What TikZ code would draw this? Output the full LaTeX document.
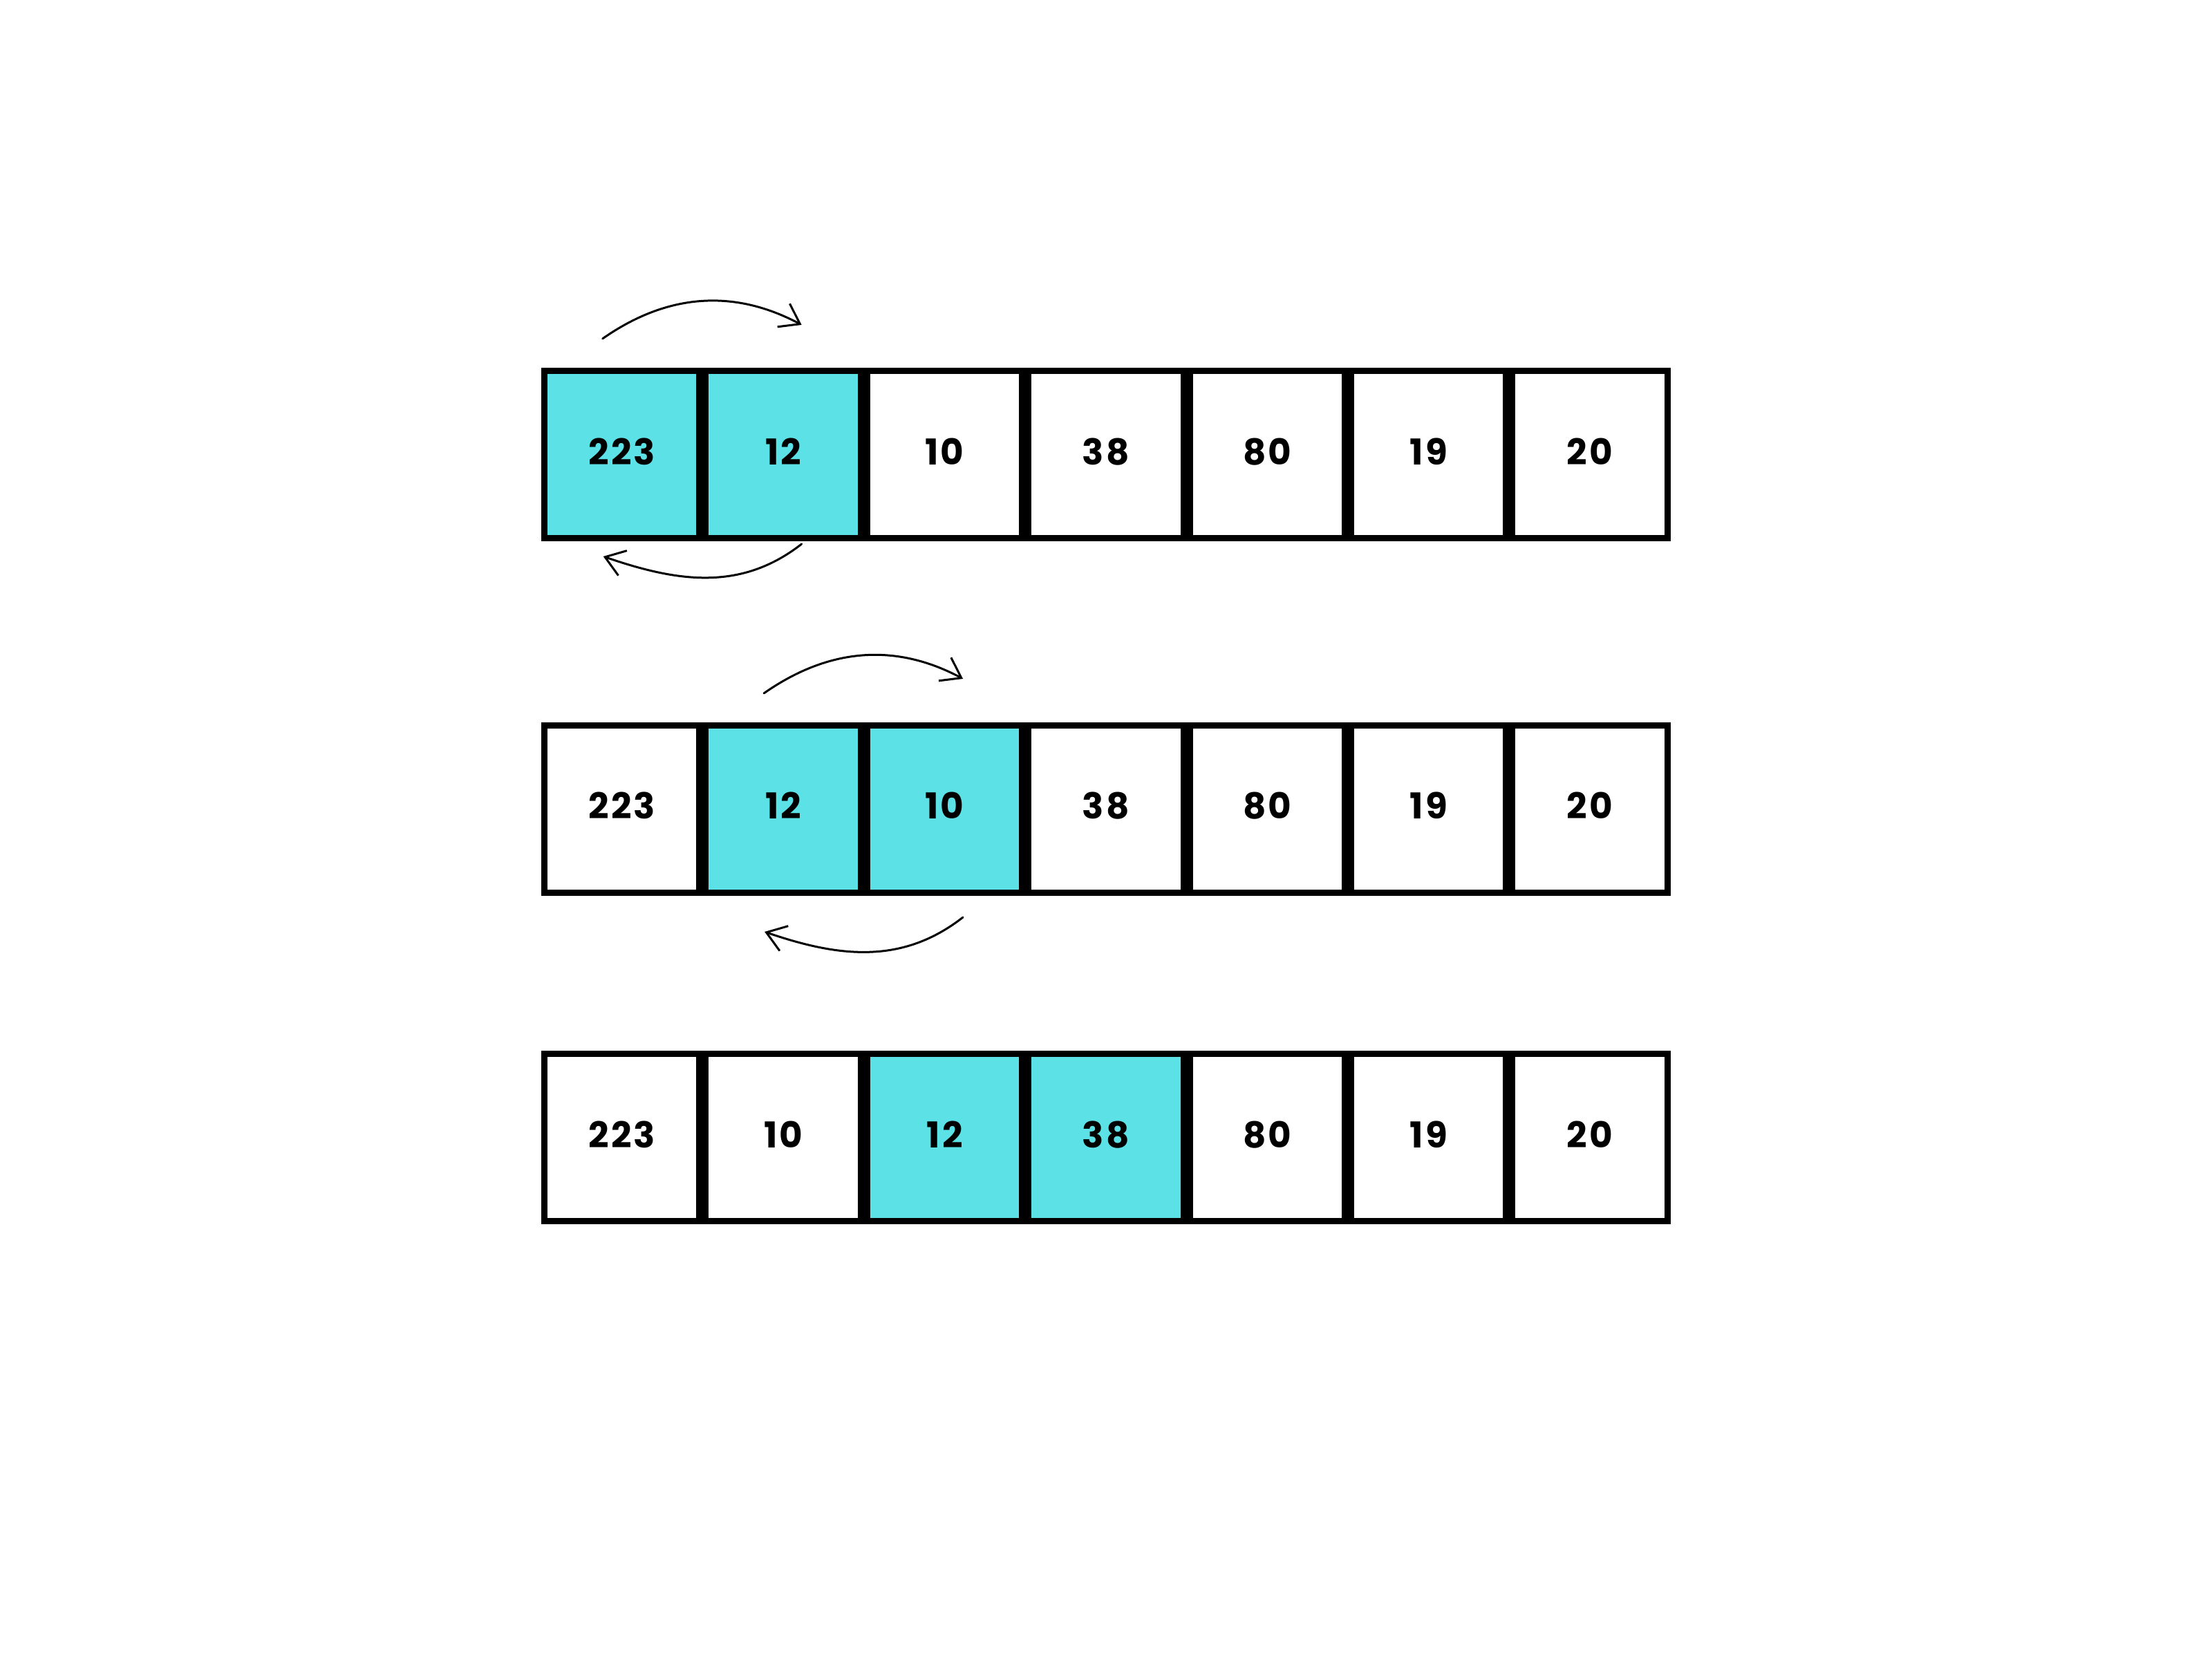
\documentclass[tikz,border=0pt]{standalone}
\usepackage{fontspec}
\setmainfont{Poppins}
\usepackage{tikz}
\usetikzlibrary{positioning,arrows.meta}
\definecolor{swapcyan}{HTML}{5CE1E6}

\tikzset{
	cell/.style={draw, rectangle, line width=0.09cm, minimum width=2.244cm, minimum height=2.42cm, inner sep=0pt, text depth=0.1cm, font=\fontsize{14.7}{16}\selectfont\bfseries\addfontfeatures{LetterSpace=6}},
	hot/.style={cell, fill=swapcyan},
	swap/.style={-{Straight Barb[length=0.27cm,width=0.38cm]}, line width=0.03cm, line cap=round},
}

\begin{document}
\begin{tikzpicture}
	\useasboundingbox (0,0) rectangle (32,24);

	\node[hot](A1) at (8.997,17.42){223};
	\node[hot, right of=A1, node distance=2.334cm](A2){12};
	\node[cell, right of=A2, node distance=2.334cm](A3){10};
	\node[cell, right of=A3, node distance=2.334cm](A4){38};
	\node[cell, right of=A4, node distance=2.334cm](A5){80};
	\node[cell, right of=A5, node distance=2.334cm](A6){19};
	\node[cell, right of=A6, node distance=2.334cm](A7){20};

	\node[cell, below of=A1, node distance=5.125cm](B1){223};
	\node[hot, right of=B1, node distance=2.334cm](B2){12};
	\node[hot, right of=B2, node distance=2.334cm](B3){10};
	\node[cell, right of=B3, node distance=2.334cm](B4){38};
	\node[cell, right of=B4, node distance=2.334cm](B5){80};
	\node[cell, right of=B5, node distance=2.334cm](B6){19};
	\node[cell, right of=B6, node distance=2.334cm](B7){20};

	\node[cell, below of=B1, node distance=4.755cm](C1){223};
	\node[cell, right of=C1, node distance=2.334cm](C2){10};
	\node[hot, right of=C2, node distance=2.334cm](C3){12};
	\node[hot, right of=C3, node distance=2.334cm](C4){38};
	\node[cell, right of=C4, node distance=2.334cm](C5){80};
	\node[cell, right of=C5, node distance=2.334cm](C6){19};
	\node[cell, right of=C6, node distance=2.334cm](C7){20};

	\coordinate (A1top) at ([shift={(-0.28,1.68)}]A1.center);
	\coordinate (A2top) at ([shift={(0.266,1.88)}]A2.center);
	\coordinate (A2bot) at ([shift={(0.266,-1.29)}]A2.center);
	\coordinate (A1bot) at ([shift={(-0.27,-1.47)}]A1.center);

	\draw[swap] (A1top) to[out=35, in=152] (A2top);
	\draw[swap] (A2bot) to[out=218, in=-19] (A1bot);

	\coordinate (B2top) at ([shift={(-0.28,1.675)}]B2.center);
	\coordinate (B3top) at ([shift={(0.266,1.885)}]B3.center);
	\coordinate (B3bot) at ([shift={(0.266,-1.565)}]B3.center);
	\coordinate (B2bot) at ([shift={(-0.27,-1.775)}]B2.center);

	\draw[swap] (B2top) to[out=35, in=152] (B3top);
	\draw[swap] (B3bot) to[out=218, in=-19] (B2bot);
\end{tikzpicture}
\end{document}
